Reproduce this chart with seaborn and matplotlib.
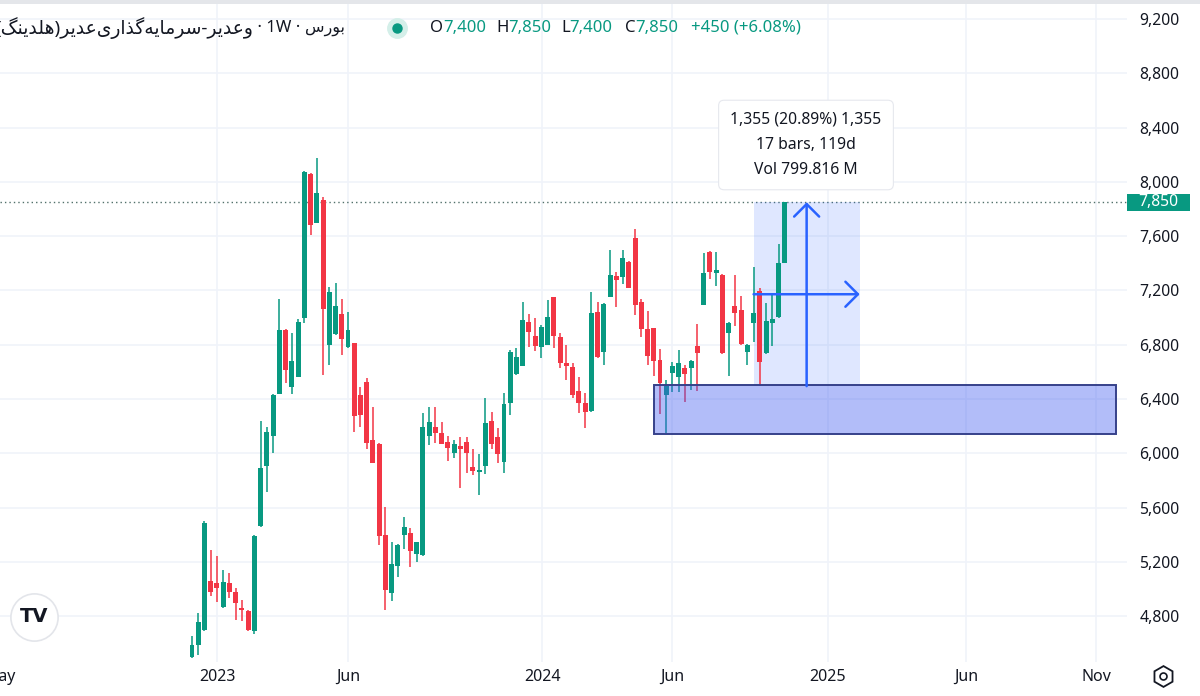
import numpy as np
import pandas as pd
import matplotlib
matplotlib.use("Agg")
import matplotlib.pyplot as plt
import matplotlib.transforms as mtransforms
from matplotlib.patches import Rectangle
import seaborn as sns

# ---------------- data (weekly candles) ----------------
OPEN = [4500, 4590, 4700, 5060, 5045, 4870, 5045, 4980, 4860, 4840,
        4690, 5465, 5910, 6130, 6440, 6910, 6490, 6565, 7000, 8060,
        7700, 7865, 6800, 6880, 7030, 6780, 6815, 6430, 6525, 6100,
        6070, 5400, 4970, 5170, 5400, 5415, 5260, 5250, 6130, 6195,
        6150, 6085, 6005, 6055, 6085, 5900, 5865, 5905, 6240, 6120,
        5935, 6370, 6585, 6645, 6970, 6865, 6785, 6800, 7150, 6860,
        6665, 6635, 6460, 6370, 6310, 7040, 6745, 7150, 7305, 7300,
        7410, 7585, 7115, 6915, 6925, 6690, 6430, 6590, 6565, 6630,
        6630, 6790, 7095, 7485, 7330, 7315, 6890, 7085, 7055, 6750,
        6960, 7195, 6740, 6960, 7005, 7400]
HIGH = [4650, 4823, 5500, 5290, 5245, 5140, 5120, 5010, 4920, 4845,
        5400, 6240, 6195, 6435, 7140, 6915, 6890, 6990, 8080, 8065,
        8180, 7890, 7225, 7255, 7140, 7040, 6815, 6490, 6555, 6340,
        6075, 5605, 5345, 5330, 5530, 5450, 5350, 6300, 6340, 6340,
        6230, 6130, 6100, 6120, 6120, 6030, 5995, 6410, 6305, 6185,
        6445, 6760, 6775, 7115, 7025, 7000, 6945, 7130, 7155, 6890,
        6800, 6665, 6565, 6445, 7190, 7115, 7110, 7500, 7335, 7500,
        7415, 7655, 7140, 7050, 6925, 6770, 6540, 6675, 6760, 6650,
        6690, 6955, 7475, 7490, 7485, 7320, 6965, 7315, 7160, 6805,
        7375, 7220, 7110, 7180, 7545, 7850]
LOW = [4495, 4515, 4690, 4950, 4905, 4860, 4935, 4775, 4765, 4690,
       4670, 5460, 5715, 6000, 6435, 6520, 6440, 6560, 6960, 7610,
       7695, 6580, 6650, 6875, 6725, 6775, 6160, 6195, 6030, 5925,
       5325, 4845, 4910, 5090, 5295, 5165, 5200, 5245, 6060, 6075,
       6065, 5945, 5965, 5745, 5855, 5840, 5695, 5850, 6030, 5930,
       5855, 6285, 6580, 6640, 6785, 6755, 6705, 6795, 6775, 6630,
       6540, 6405, 6295, 6185, 6305, 6700, 6650, 7150, 7080, 7250,
       7215, 7020, 6860, 6650, 6570, 6290, 6150, 6450, 6450, 6380,
       6465, 6460, 7090, 7285, 7235, 6735, 6570, 6940, 6800, 6650,
       6820, 6495, 6735, 6790, 7000, 7400]
CLOSE = [4590, 4757, 5490, 4980, 5010, 5050, 4980, 4900, 4845, 4700,
         5390, 5890, 6155, 6430, 6910, 6615, 6680, 6970, 8075, 7685,
         7920, 7065, 7190, 7085, 6845, 6910, 6275, 6285, 6075, 5930,
         5390, 4995, 5185, 5325, 5455, 5280, 5345, 6195, 6230, 6150,
         6070, 6040, 6070, 6030, 6005, 5870, 5870, 6225, 6070, 5995,
         6365, 6745, 6710, 6985, 6895, 6790, 6930, 7005, 6865, 6665,
         6640, 6430, 6370, 6305, 7035, 6710, 7100, 7315, 7280, 7440,
         7220, 7095, 6915, 6720, 6680, 6520, 6495, 6645, 6665, 6585,
         6680, 6740, 7330, 7335, 7350, 6740, 6960, 7035, 6805, 6800,
         7035, 6675, 6975, 6990, 7400, 7850]

XTICK_LABELS = ["May", "2023", "Jun", "2024", "Jun", "2025", "Jun", "Nov"]
XTICK_POS = [-30.7, 4.0, 25.0, 56.1, 76.9, 101.9, 124.0, 144.9]
YTICKS = list(range(4800, 9201, 400))

ZONE_X0, ZONE_X1 = 74.0, 148.1          # demand zone (bar index)
ZONE_LOW, ZONE_HIGH = 6145, 6500

MEAS_START, MEAS_BARS = 90, 17          # date & price range tool
MEAS_LOW, MEAS_HIGH = 6495, 7850
TOOLTIP = ["1,355 (20.89%) 1,355", "17 bars, 119d", "Vol 799.816 M"]

SYMBOL = "وعدیر-سرمایه\u200cگذاری\u200cعدیر(هلدینگ)"
EXCHANGE = "بورس"
INTERVAL = "1W"

GREEN = "#089981"
RED = "#F23645"
BLUE = "#2962FF"
DARK = "#131722"
GRID = "#F0F3FA"

# ---------------- tiny Persian shaper (matplotlib has no text shaping) -----
FORMS = {
    'ا': ('\uFE8D', '\uFE8E', None, None),
    'ب': ('\uFE8F', '\uFE90', '\uFE91', '\uFE92'),
    'د': ('\uFEA9', '\uFEAA', None, None),
    'ذ': ('\uFEAB', '\uFEAC', None, None),
    'ر': ('\uFEAD', '\uFEAE', None, None),
    'س': ('\uFEB1', '\uFEB2', '\uFEB3', '\uFEB4'),
    'ع': ('\uFEC9', '\uFECA', '\uFECB', '\uFECC'),
    'ل': ('\uFEDD', '\uFEDE', '\uFEDF', '\uFEE0'),
    'م': ('\uFEE1', '\uFEE2', '\uFEE3', '\uFEE4'),
    'ن': ('\uFEE5', '\uFEE6', '\uFEE7', '\uFEE8'),
    'ه': ('\uFEE9', '\uFEEA', '\uFEEB', '\uFEEC'),
    'و': ('\uFEED', '\uFEEE', None, None),
    'ی': ('\uFBFC', '\uFBFD', '\uFBFE', '\uFBFF'),
    'گ': ('\uFB92', '\uFB93', '\uFB94', '\uFB95'),
}


def rtl(s):
    out = []
    for i, ch in enumerate(s):
        if ch not in FORMS:
            out.append(ch)
            continue
        iso, fin, ini, med = FORMS[ch]
        prev = s[i - 1] if i > 0 else ''
        nxt = s[i + 1] if i + 1 < len(s) else ''
        jp = prev in FORMS and FORMS[prev][2] is not None
        jn = ini is not None and nxt in FORMS
        out.append(med if (jp and jn) else fin if jp else ini if jn else iso)
    vis = ''.join(out).replace('\u200c', '')[::-1]
    return vis.translate(str.maketrans('()', ')('))


# ---------------- figure ----------------
sns.set_theme(style="white")
plt.rcParams['font.family'] = ['Noto Sans', 'DejaVu Sans']

W, H = 1200, 696
AX_W, AX_H, AX_B = 1127, 662, 34
fig = plt.figure(figsize=(W / 100, H / 100), dpi=100)
ax = fig.add_axes([0, AX_B / H, AX_W / W, AX_H / H])


def af(px, py):
    """pixel position in the plot -> axes fraction"""
    return px / AX_W, 1 - py / AX_H


df = pd.DataFrame(dict(o=OPEN, h=HIGH, l=LOW, c=CLOSE))
df["x"] = np.arange(len(df))
df["up"] = df.c >= df.o
cols = np.where(df.up, GREEN, RED)

ax.set_xlim(-30.77, 149.84)
ax.set_ylim(4462, 9341)

# grid
ax.set_yticks(YTICKS)
ax.set_yticklabels([f"{v:,}" for v in YTICKS])
for xp in XTICK_POS[1:]:
    ax.axvline(xp, color=GRID, lw=1.2, zorder=0)
ax.grid(axis="y", color=GRID, lw=1.2, zorder=0)
ax.grid(axis="x", visible=False)
ax.set_xticks(XTICK_POS)
ax.set_xticklabels(XTICK_LABELS)

# candles
ax.vlines(df.x, df.l, df.h, colors=cols, lw=1.1, zorder=3)
body = (df.c - df.o).abs().clip(lower=14)
ax.bar(df.x, body, bottom=np.minimum(df.o, df.c), width=0.8,
       color=cols, linewidth=0, zorder=4)

# last price line
last = CLOSE[-1]
ax.axhline(last, color="#51706a", lw=1.0, ls=(0, (1, 2.2)), zorder=2)

# demand zone
ax.add_patch(Rectangle((ZONE_X0, ZONE_LOW), ZONE_X1 - ZONE_X0, ZONE_HIGH - ZONE_LOW,
                       facecolor=(0.25, 0.36, 0.94, 0.40), edgecolor="#36418a",
                       lw=1.4, zorder=5))

# measure tool
ax.add_patch(Rectangle((MEAS_START, MEAS_LOW), MEAS_BARS, MEAS_HIGH - MEAS_LOW,
                       facecolor=BLUE, alpha=0.15, lw=0, zorder=2))
mid_x = MEAS_START + MEAS_BARS / 2
mid_y = (MEAS_LOW + MEAS_HIGH) / 2
arrow = dict(arrowstyle="->,head_length=0.45,head_width=0.45", color=BLUE,
             lw=1.8, mutation_scale=20, shrinkA=0, shrinkB=0)
ax.annotate("", xy=(mid_x, MEAS_HIGH), xytext=(mid_x, MEAS_LOW),
            arrowprops=arrow, zorder=6)
ax.annotate("", xy=(MEAS_START + MEAS_BARS, mid_y), xytext=(MEAS_START, mid_y),
            arrowprops=arrow, zorder=6)

# tooltip
tx, ty = af(806, 145)
ax.text(tx, ty, "\n".join(TOOLTIP), transform=ax.transAxes, ha="center",
        va="center", fontsize=11.3, color=DARK, linespacing=1.75, zorder=8,
        bbox=dict(boxstyle="round,pad=0.75,rounding_size=0.35", fc="white",
                  ec="#e6e8ee", lw=0.8))

# axes styling
for s in ax.spines.values():
    s.set_visible(False)
ax.yaxis.tick_right()
ax.tick_params(axis="y", length=0, pad=9, labelsize=11.3, labelcolor=DARK)
ax.tick_params(axis="x", length=0, pad=5, labelsize=11.5, labelcolor=DARK)
ax.set_xlabel("")
ax.set_ylabel("")

# last price label on the scale
blend = mtransforms.blended_transform_factory(ax.transAxes, ax.transData)
ax.add_patch(Rectangle((1.0, last - 62), 63 / AX_W, 124, transform=blend,
                       facecolor=GREEN, edgecolor="none", clip_on=False, zorder=9))
ax.text(1 + 31 / AX_W, last, f"{last:,}", transform=blend, ha="center",
        va="center", color="white", fontsize=11.3, clip_on=False, zorder=10)

# header: name · interval · exchange (right-to-left pieces chained leftwards)
hx, hy = af(345, 28)
t_ex = ax.text(hx, hy, rtl(EXCHANGE), transform=ax.transAxes, ha="right",
               va="center", fontsize=11.5, color=DARK, zorder=10)
t_mid = ax.annotate(f" · {INTERVAL} · ", xy=(0, 0.5), xycoords=t_ex, ha="right",
                    va="center", fontsize=12, color=DARK, zorder=10)
ax.annotate(rtl(SYMBOL), xy=(0, 0.5), xycoords=t_mid, ha="right", va="center",
            fontsize=13.5, color=DARK, zorder=10)

dx, dy = af(397, 28)
ax.plot([dx], [dy], "o", ms=14, color="#d4efe9", transform=ax.transAxes, zorder=10, clip_on=False)
ax.plot([dx], [dy], "o", ms=6.5, color=GREEN, transform=ax.transAxes, zorder=11, clip_on=False)

chg = CLOSE[-1] - CLOSE[-2]
pct = chg / CLOSE[-2] * 100
for letter, val, xp in [("O", OPEN[-1], 430), ("H", HIGH[-1], 496),
                        ("L", LOW[-1], 561), ("C", CLOSE[-1], 625)]:
    lx, ly = af(xp, 28)
    t = ax.text(lx, ly, letter, transform=ax.transAxes, ha="left", va="center",
                fontsize=12, color=DARK, zorder=10)
    ax.annotate(f"{val:,}", xy=(1, 0), xycoords=t, ha="left", va="bottom",
                fontsize=12, color=GREEN, zorder=10)
cx, cy = af(691, 28)
ax.text(cx, cy, f"+{chg:,} (+{pct:.2f}%)", transform=ax.transAxes, ha="left",
        va="center", fontsize=12, color=GREEN, zorder=10)

# TradingView badge
bx, by = af(34, 617)
ax.plot([bx], [by], "o", ms=34, mfc="white", mec="#e3e5ea", mew=1.2,
        transform=ax.transAxes, zorder=10)
ax.text(bx, by, "TV", transform=ax.transAxes, ha="center", va="center",
        fontsize=14, fontweight="bold", family="DejaVu Sans", color=DARK, zorder=11)

# settings icon (bottom-right)
fig.add_artist(plt.Line2D([1163 / W], [1 - 676 / H], marker="h", ms=15, mfc="none",
                          mec=DARK, mew=1.3, transform=fig.transFigure))
fig.add_artist(plt.Line2D([1163 / W], [1 - 676 / H], marker="o", ms=5, mfc="none",
                          mec=DARK, mew=1.2, transform=fig.transFigure))

# thin top border strip
fig.add_artist(Rectangle((0, 1 - 4 / H), 1, 4 / H, transform=fig.transFigure,
                         facecolor="#e4e6ea", edgecolor="none"))

fig.savefig("out.png", dpi=100, facecolor="white")
